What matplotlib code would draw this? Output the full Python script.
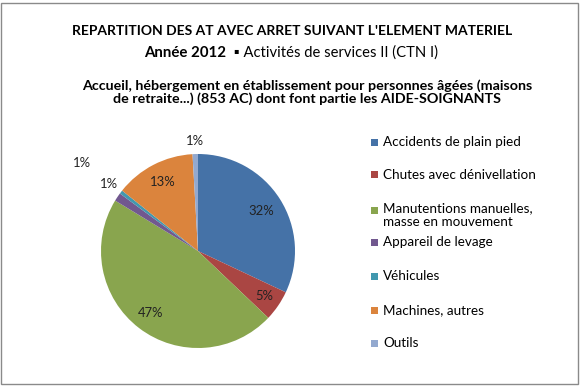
import numpy as np
import matplotlib
matplotlib.use("Agg")
import matplotlib.pyplot as plt
from matplotlib.patches import Rectangle

plt.rcParams["font.family"] = ["Lato", "DejaVu Sans"]

# --- data ---------------------------------------------------------------
categories = [
    "Accidents de plain pied",
    "Chutes avec dénivellation",
    "Manutentions manuelles,\nmasse en mouvement",
    "Appareil de levage",
    "Véhicules",
    "Machines, autres",
    "Outils",
]
shares = [32.0, 5.1, 46.6, 1.4, 0.6, 13.4, 0.9]
colors = ["#4572A7", "#AA4643", "#89A54E", "#71588F", "#4198AF", "#DB843D", "#93A9CF"]

# radial position of each percentage label (fraction of radius)
label_r = [0.77, 0.83, 0.80, 1.15, 1.50, 0.80, 1.13]
label_dang = [0, 0, 0, -3, 0, 0, 0]

W, H = 581, 387
fig = plt.figure(figsize=(W / 100, H / 100), dpi=100)

# frame
fig.patches.append(Rectangle((1 / W, 3 / H), 577 / W, 381 / H, transform=fig.transFigure,
                             fill=False, ec="#8a8a8a", lw=1.0))

# titles
fig.text(292 / W, 1 - 31 / H, "REPARTITION DES AT AVEC ARRET SUIVANT L'ELEMENT MATERIEL",
         ha="center", va="center", fontsize=10.0, fontweight="bold")
fig.text(226 / W, 1 - 53 / H, "Année 2012", ha="right", va="center",
         fontsize=10.8, fontweight="bold")
fig.text(230 / W, 1 - 53 / H, " ▪ Activités de services II (CTN I)", ha="left",
         va="center", fontsize=10.6)
fig.text(307 / W, 1 - 92 / H,
         "Accueil, hébergement en établissement pour personnes âgées (maisons\n"
         "de retraite...) (853 AC) dont font partie les AIDE-SOIGNANTS",
         ha="center", va="center", fontsize=10.3, fontweight="bold",
         linespacing=1.05)

# pie
cx, cy, r = 198, 251, 97
ax = fig.add_axes([(cx - r) / W, (H - cy - r) / H, 2 * r / W, 2 * r / H])
wedges, _ = ax.pie(shares, colors=colors, startangle=90, counterclock=False,
                   wedgeprops=dict(linewidth=0))
ax.set_xlim(-1, 1)
ax.set_ylim(-1, 1)
ax.set_aspect("equal")
ax.axis("off")

total = sum(shares)
for w, v, rr, da in zip(wedges, shares, label_r, label_dang):
    ang = np.deg2rad((w.theta1 + w.theta2) / 2 + da)
    ax.text(rr * np.cos(ang), rr * np.sin(ang), f"{round(v / total * 100):.0f}%",
            ha="center", va="center", fontsize=9.4, color="#222222")

# legend
ys = [142, 175, 210, 242, 276, 310, 343]
for lab, col, y in zip(categories, colors, ys):
    fig.patches.append(Rectangle((371 / W, 1 - (y + 3.5) / H), 7 / W, 7 / H,
                                 transform=fig.transFigure, fc=col, ec="none"))
    if "\n" in lab:
        fig.text(383 / W, 1 - (y - 8) / H, lab, ha="left", va="top",
                 fontsize=9.7, linespacing=1.2)
    else:
        fig.text(383 / W, 1 - y / H, lab, ha="left", va="center", fontsize=9.7)

fig.savefig("out.png", dpi=100)
